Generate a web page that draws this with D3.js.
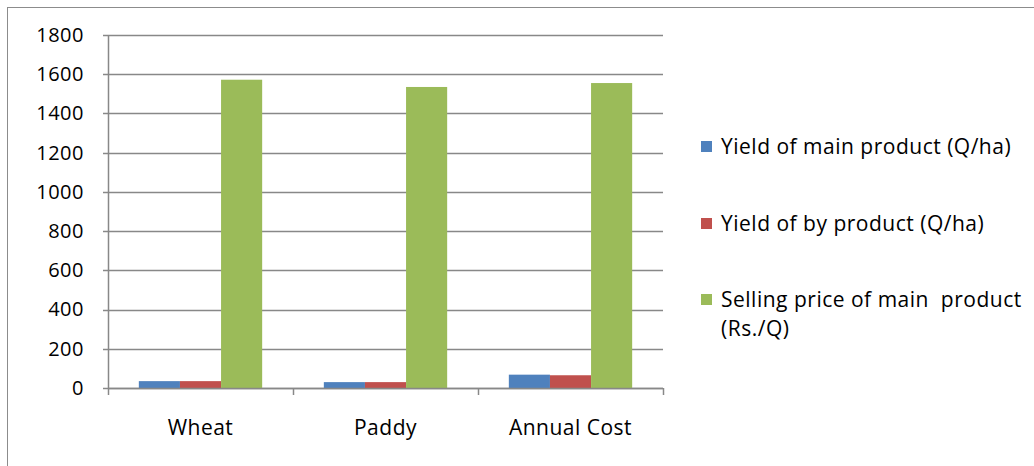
<!DOCTYPE html>
<html><head><meta charset="utf-8">
<script src="https://cdn.jsdelivr.net/npm/d3@7"></script>
<style>body{margin:0;background:#fff}svg{display:block}</style>
</head><body>
<script>
const categories = ["Wheat", "Paddy", "Annual Cost"];
const seriesNames = ["Yield of main product (Q/ha)", "Yield of by product (Q/ha)", "Selling price of main  product (Rs./Q)"];
const yieldMain = [35, 30, 68];
const yieldBy = [35, 30, 65];
const sellingPrice = [1572, 1535, 1555];
const yTicks = [0, 200, 400, 600, 800, 1000, 1200, 1400, 1600, 1800];
const colors = ["#4f81bd", "#c0504d", "#9bbb59"];

(function () {
const series = [yieldMain, yieldBy, sellingPrice];
const W = 1034, H = 466;
const svg = d3.select("body").append("svg").attr("width", W).attr("height", H);
const font = "'Open Sans', Lato, sans-serif";
const fs = 21, ls = 0.5;

svg.append("rect").attr("x", 7.5).attr("y", 7.5).attr("width", W + 10).attr("height", H + 10)
  .attr("fill", "none").attr("stroke", "#8c8c8c").attr("stroke-width", 1);

const pLeft = 108, pRight = 663, pTop = 35, pBottom = 388;
const x = d3.scaleBand().domain(categories).range([pLeft, pRight]).paddingInner(0).paddingOuter(0);
const y = d3.scaleLinear().domain([0, 1800]).range([pBottom, pTop]);
const xs = d3.scaleBand().domain(d3.range(series.length)).range([0, x.bandwidth()]).paddingInner(0).paddingOuter(0.75);

// gridlines
svg.append("g").selectAll("line").data(yTicks).join("line")
  .attr("x1", pLeft - 5).attr("x2", pRight).attr("y1", d => Math.round(y(d)) + 0.5).attr("y2", d => Math.round(y(d)) + 0.5)
  .attr("stroke", "#888").attr("stroke-width", 1.5);

// bars
const groups = svg.append("g").selectAll("g").data(categories).join("g")
  .attr("transform", d => `translate(${x(d)},0)`);
groups.selectAll("rect").data((c, ci) => series.map((s, si) => ({si, v: s[ci]}))).join("rect")
  .attr("x", d => xs(d.si)).attr("width", xs.bandwidth())
  .attr("y", d => y(d.v)).attr("height", d => y(0) - y(d.v))
  .attr("fill", d => colors[d.si]);

// y axis
const yAxis = d3.axisLeft(y).tickValues(yTicks).tickFormat(d3.format("d")).tickSize(0).tickPadding(24);
const yg = svg.append("g").attr("transform", `translate(${pLeft},0)`).call(yAxis);
yg.select(".domain").remove();
yg.selectAll("text").attr("font-family", font).attr("font-size", 20).attr("letter-spacing", ls).attr("fill", "#000");
svg.append("line").attr("x1", pLeft + 0.5).attr("x2", pLeft + 0.5).attr("y1", pTop).attr("y2", pBottom)
  .attr("stroke", "#888").attr("stroke-width", 1.5);

// x axis
svg.append("line").attr("x1", pLeft).attr("x2", pRight).attr("y1", pBottom + 0.5).attr("y2", pBottom + 0.5)
  .attr("stroke", "#888").attr("stroke-width", 1.5);
const bounds = categories.map(c => x(c)).concat([pRight]);
svg.append("g").selectAll("line").data(bounds).join("line")
  .attr("x1", d => d + 0.5).attr("x2", d => d + 0.5).attr("y1", pBottom).attr("y2", pBottom + 7)
  .attr("stroke", "#888").attr("stroke-width", 1.5);
svg.append("g").selectAll("text").data(categories).join("text")
  .attr("x", d => x(d) + x.bandwidth() / 2).attr("y", 435)
  .attr("text-anchor", "middle").attr("font-family", font).attr("font-size", fs).attr("letter-spacing", ls).text(d => d);

// legend
const legendY = [147, 224, 300];
const lg = svg.append("g").attr("font-family", font).attr("font-size", fs).attr("letter-spacing", ls);
seriesNames.forEach((name, i) => {
  lg.append("rect").attr("x", 701).attr("y", legendY[i] - 6).attr("width", 11).attr("height", 11).attr("fill", colors[i]);
});
lg.append("text").attr("x", 721).attr("y", 154).text(seriesNames[0]);
lg.append("text").attr("x", 721).attr("y", 231).text(seriesNames[1]);
const t3 = lg.append("text").attr("xml:space", "preserve");
t3.append("tspan").attr("x", 721).attr("y", 307).text("Selling price of main  product");
t3.append("tspan").attr("x", 721).attr("y", 336).text("(Rs./Q)");
})();
</script>
</body></html>
